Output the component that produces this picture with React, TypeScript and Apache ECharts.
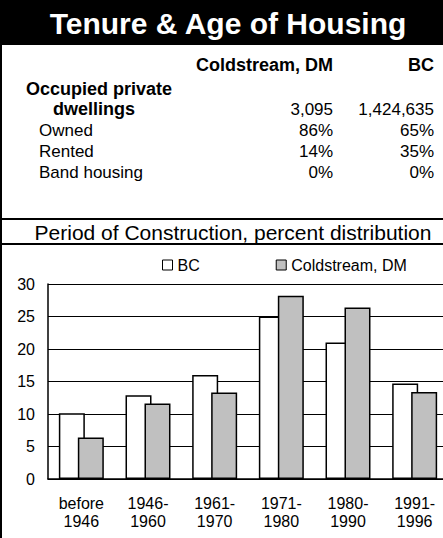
import React, { useEffect, useRef } from "react";
import * as echarts from "echarts";

const categories = ["before\n1946", "1946-\n1960", "1961-\n1970", "1971-\n1980", "1980-\n1990", "1991-\n1996"];
const bcValues = [10.1, 12.9, 16.0, 25.0, 21.0, 14.7];
const coldstreamValues = [6.4, 11.6, 13.3, 28.2, 26.4, 13.4];
const seriesNames = ["BC", "Coldstream, DM"];

const title = "Tenure & Age of Housing";
const subTitle = "Period of Construction, percent distribution";
const tableColumns = ["Coldstream, DM", "BC"];
const tableRowLabels = ["Owned", "Rented", "Band housing"];
const dwellings = ["3,095", "1,424,635"];
const coldstreamShares = ["86%", "14%", "0%"];
const bcShares = ["65%", "35%", "0%"];

const FONT = "'Liberation Sans', Arial, sans-serif";

export default function App() {
  const ref = useRef<HTMLDivElement>(null);
  useEffect(() => {
    if (!ref.current) return;
    const chart = echarts.init(ref.current, undefined, { renderer: "svg" });
    const rowY = [130, 151, 172];
    const graphics: any[] = [
      { type: "rect", shape: { x: 0, y: 0, width: 448, height: 45 }, style: { fill: "#000" } },
      { type: "text", x: 228, y: 23, style: { text: title, fill: "#fff", font: `bold 30px ${FONT}`, textAlign: "center", textVerticalAlign: "middle" } },
      { type: "rect", shape: { x: 0, y: 45, width: 2, height: 493 }, style: { fill: "#000" } },
      { type: "rect", shape: { x: 0, y: 218, width: 448, height: 2 }, style: { fill: "#000" } },
      { type: "rect", shape: { x: 0, y: 243, width: 448, height: 2 }, style: { fill: "#000" } },
      { type: "text", x: 233, y: 232, style: { text: subTitle, fill: "#000", font: `21px ${FONT}`, textAlign: "center", textVerticalAlign: "middle" } },
      { type: "text", x: 333, y: 65, style: { text: tableColumns[0], fill: "#000", font: `bold 18px ${FONT}`, textAlign: "right", textVerticalAlign: "middle" } },
      { type: "text", x: 434, y: 65, style: { text: tableColumns[1], fill: "#000", font: `bold 18px ${FONT}`, textAlign: "right", textVerticalAlign: "middle" } },
      { type: "text", x: 26, y: 89, style: { text: "Occupied private", fill: "#000", font: `bold 18px ${FONT}`, textAlign: "left", textVerticalAlign: "middle" } },
      { type: "text", x: 53, y: 109, style: { text: "dwellings", fill: "#000", font: `bold 18px ${FONT}`, textAlign: "left", textVerticalAlign: "middle" } },
      { type: "text", x: 333, y: 109, style: { text: dwellings[0], fill: "#000", font: `17px ${FONT}`, textAlign: "right", textVerticalAlign: "middle" } },
      { type: "text", x: 434, y: 109, style: { text: dwellings[1], fill: "#000", font: `17px ${FONT}`, textAlign: "right", textVerticalAlign: "middle" } },
    ];
    tableRowLabels.forEach((lab, i) => {
      graphics.push({ type: "text", x: 39, y: rowY[i], style: { text: lab, fill: "#000", font: `17px ${FONT}`, textAlign: "left", textVerticalAlign: "middle" } });
      graphics.push({ type: "text", x: 333, y: rowY[i], style: { text: coldstreamShares[i], fill: "#000", font: `17px ${FONT}`, textAlign: "right", textVerticalAlign: "middle" } });
      graphics.push({ type: "text", x: 434, y: rowY[i], style: { text: bcShares[i], fill: "#000", font: `17px ${FONT}`, textAlign: "right", textVerticalAlign: "middle" } });
    });

    chart.setOption({
      animation: false,
      backgroundColor: "#fff",
      textStyle: { fontFamily: FONT },
      legend: {
        data: seriesNames,
        left: 162,
        top: 257,
        padding: 0,
        itemWidth: 10,
        itemHeight: 10,
        itemGap: 76,
        icon: "rect",
        itemStyle: { borderColor: "#000", borderWidth: 1 },
        textStyle: { fontSize: 16, color: "#000", fontFamily: FONT },
      },
      grid: { left: 48, right: 0, top: 284, bottom: 59, containLabel: false },
      xAxis: {
        type: "category",
        data: categories,
        axisLine: { show: true, lineStyle: { color: "#000", width: 1.5 } },
        axisTick: { show: false },
        axisLabel: { color: "#000", fontSize: 16, lineHeight: 18, margin: 15, interval: 0, fontFamily: FONT },
      },
      yAxis: {
        type: "value",
        min: 0,
        max: 30,
        interval: 5,
        axisLine: { show: true, lineStyle: { color: "#000", width: 1.5 } },
        axisTick: { show: false },
        axisLabel: { color: "#000", fontSize: 16, margin: 13, fontFamily: FONT },
        splitLine: { show: true, lineStyle: { color: "#000", width: 1 } },
      },
      series: [
        {
          name: seriesNames[0],
          type: "bar",
          data: bcValues,
          barWidth: 26,
          barGap: "-27%",
          itemStyle: { color: "#fff", borderColor: "#000", borderWidth: 1.5 },
        },
        {
          name: seriesNames[1],
          type: "bar",
          data: coldstreamValues,
          barWidth: 26,
          barGap: "-27%",
          itemStyle: { color: "#c0c0c0", borderColor: "#000", borderWidth: 1.5 },
        },
      ],
      graphic: graphics,
    });
    return () => chart.dispose();
  }, []);
  return (
    <div style={{ position: "fixed", left: 0, top: 0, width: 443, height: 538, background: "#fff", overflow: "hidden" }}>
      <div ref={ref} style={{ width: 448, height: 538 }} />
    </div>
  );
}
